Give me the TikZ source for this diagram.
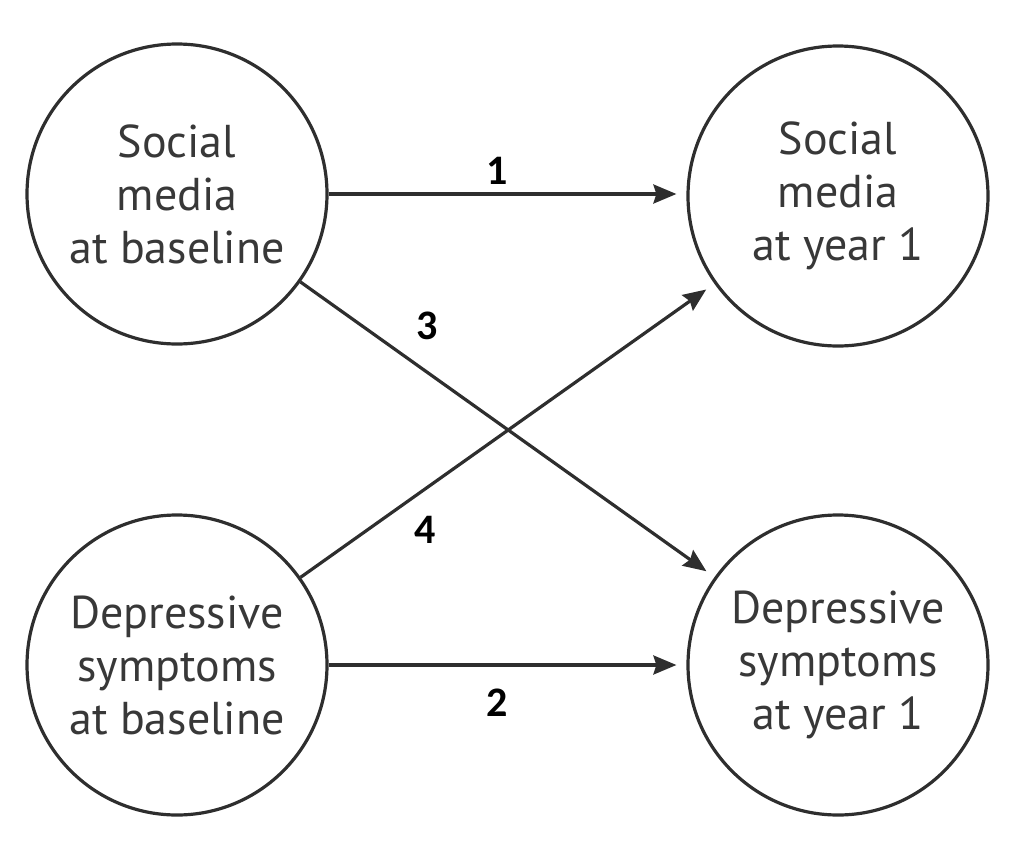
\documentclass[tikz,border=0pt]{standalone}
\usepackage{fontspec}
\setmainfont{PT Sans}
\newfontfamily\numfont{Carlito}
\usetikzlibrary{arrows.meta}
\definecolor{ink}{HTML}{2E2E2E}
\definecolor{txt}{HTML}{383838}
\tikzset{
  var/.style={circle, draw=ink, line width=1.6pt, minimum size=150pt, inner sep=0pt,
    align=center, text=txt, font=\fontsize{23}{26.5}\selectfont},
  path/.style={draw=ink, line width=1.6pt, shorten >=5pt,
    -{Stealth[length=11.5pt, width=9.5pt, inset=1.5pt]}},
  num/.style={font=\numfont\bfseries\fontsize{21}{21}\selectfont, text=black}
}
\begin{document}
\begin{tikzpicture}[x=0.5pt, y=-0.5pt]
  \useasboundingbox (0,0) rectangle (1028,862);
  \node[var] (smb) at (177,194) {Social\\media\\at baseline};
  \node[var] (smy) at (838,196) {Social\\media\\at year 1};
  \node[var] (dsb) at (177,665) {Depressive\\symptoms\\at baseline};
  \node[var] (dsy) at (838,665) {Depressive\\symptoms\\at year 1};

  % paths between the four variables
  \draw[path] (smb.east) -- (smy.west |- smb.east);
  \draw[path] (dsb.east) -- (dsy.west);
  \draw[path] (smb) -- (dsy);
  \draw[path] (dsb) -- (smy);

  \node[num] (p1) at (497,171) {1};
  \node[num] (p2) at (497,703) {2};
  \node[num] (p3) at (427,326) {3};
  \node[num] (p4) at (425,530) {4};
\end{tikzpicture}
\end{document}
